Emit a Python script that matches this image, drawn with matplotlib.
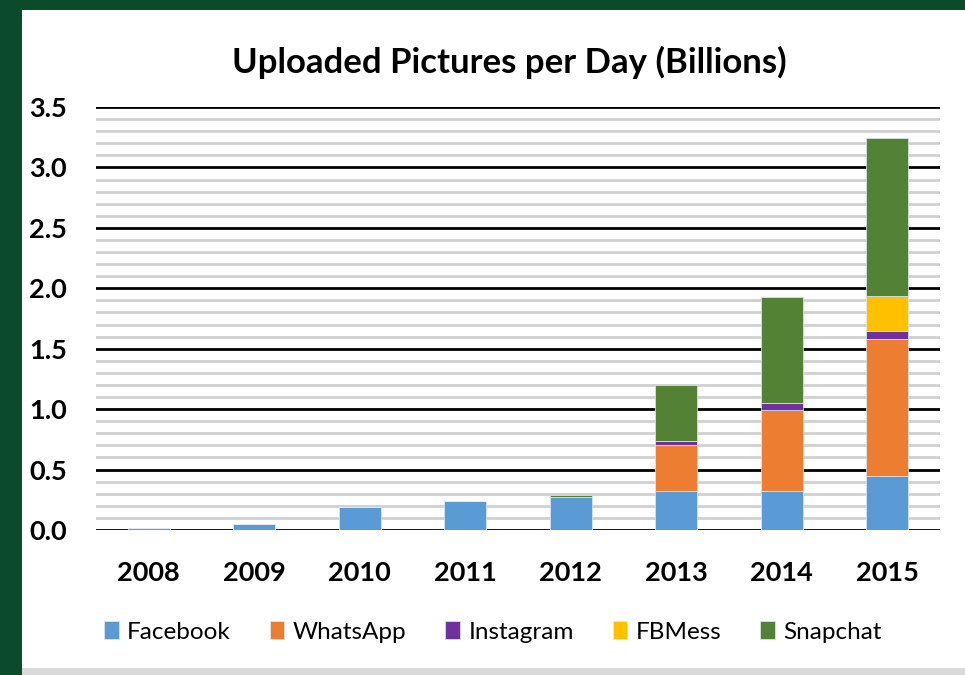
import numpy as np
import matplotlib.pyplot as plt
from matplotlib.patches import Rectangle

# data (billions of pictures per day)
years = ['2008', '2009', '2010', '2011', '2012', '2013', '2014', '2015']
facebook = [0.02, 0.05, 0.19, 0.24, 0.27, 0.32, 0.32, 0.45]
whatsapp = [0.0, 0.0, 0.0, 0.0, 0.0, 0.38, 0.67, 1.13]
instagram = [0.0, 0.0, 0.0, 0.0, 0.0, 0.04, 0.06, 0.07]
fbmess = [0.0, 0.0, 0.0, 0.0, 0.0, 0.0, 0.0, 0.29]
snapchat = [0.0, 0.0, 0.0, 0.0, 0.02, 0.46, 0.875, 1.30]

series = ['Facebook', 'WhatsApp', 'Instagram', 'FBMess', 'Snapchat']
colors = ['#5B9BD5', '#ED7D31', '#7030A0', '#FFC000', '#548235']

plt.rcParams['font.family'] = ['Lato', 'DejaVu Sans']

fig = plt.figure(figsize=(9.65, 6.75), dpi=100)
fig.patch.set_facecolor('#0B4A2A')
# white chart panel and light grey strip at the bottom
fig.patches.append(Rectangle((22 / 965, 7 / 675), 1, 1 - 17 / 675,
                             transform=fig.transFigure, facecolor='white',
                             edgecolor='none', zorder=-10))
fig.patches.append(Rectangle((22 / 965, 0), 1, 7 / 675,
                             transform=fig.transFigure, facecolor='#D9D9D9',
                             edgecolor='none', zorder=-10))

ax = fig.add_axes([96 / 965, 1 - 530 / 675, 844 / 965, 423 / 675])
ax.set_facecolor('none')

x = np.arange(len(years))
bottom = np.zeros(len(years))
data = [facebook, whatsapp, instagram, fbmess, snapchat]
for name, vals, col in zip(series, data, colors):
    vals = np.array(vals)
    ax.bar(x, vals, 0.4, bottom=bottom, color=col, label=name,
           edgecolor='#DDEBF7', linewidth=0.5, zorder=3)
    bottom += vals

ax.set_xlim(-0.5, len(years) - 0.5)
ax.set_ylim(0, 3.5)
ax.set_yticks(np.arange(0, 3.51, 0.5))
ax.set_yticklabels(['%.1f' % v for v in np.arange(0, 3.51, 0.5)])
ax.set_yticks(np.arange(0, 3.51, 0.1), minor=True)
ax.grid(axis='y', which='minor', color='#D0D0D0', linewidth=2, zorder=1)
ax.grid(axis='y', which='major', color='black', linewidth=2, zorder=2)
ax.set_xticks(x)
ax.set_xticklabels(years)
for s in ax.spines.values():
    s.set_visible(False)
ax.tick_params(axis='both', which='both', length=0)
ax.tick_params(axis='y', pad=21, labelsize=19.5)
ax.tick_params(axis='x', pad=22, labelsize=19.5)
for lab in ax.get_xticklabels() + ax.get_yticklabels():
    lab.set_fontweight('bold')

fig.text(509 / 965, 1 - 62 / 675, 'Uploaded Pictures per Day (Billions)',
         ha='center', va='center', fontsize=25, fontweight='bold')

fig.legend(loc='center', bbox_to_anchor=(493 / 965, 1 - 632 / 675), ncol=5,
           frameon=False, fontsize=17.5, handlelength=0.6, handleheight=0.7,
           handletextpad=0.35, columnspacing=1.6)

fig.savefig('out.png', dpi=100, facecolor=fig.get_facecolor())
